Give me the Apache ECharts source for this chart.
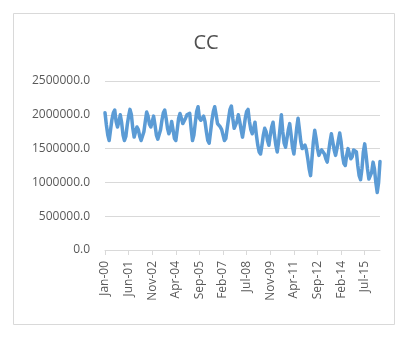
<!DOCTYPE html>
<html>
<head>
<meta charset="utf-8">
<script src="https://cdn.jsdelivr.net/npm/echarts@6/dist/echarts.min.js"></script>
<style>
  html, body { margin: 0; padding: 0; background: #fff; }
  #chart { width: 412px; height: 348px; }
</style>
</head>
<body>
<div id="chart"></div>
<script>
// CC monthly values, Jan-00 onwards (one row per year)
const ccValues = [
  2030000, 1850000, 1700000, 1620000, 1780000, 1930000, 2030000, 2070000, 1900000, 1820000, 1900000, 2000000,
  1880000, 1700000, 1620000, 1680000, 1850000, 1980000, 2080000, 2000000, 1800000, 1670000, 1750000, 1820000,
  1780000, 1680000, 1620000, 1600000, 1750000, 1900000, 2040000, 1980000, 1860000, 1820000, 1900000, 1980000,
  1850000, 1700000, 1640000, 1620000, 1780000, 1920000, 2030000, 2070000, 1950000, 1800000, 1720000, 1780000,
  1900000, 1780000, 1650000, 1620000, 1780000, 1950000, 2020000, 1950000, 1870000, 1880000, 1950000, 2000000,
  1980000, 2020000, 1800000, 1620000, 1700000, 1880000, 2050000, 2120000, 1950000, 1920000, 1950000, 1980000,
  1900000, 1750000, 1620000, 1580000, 1750000, 1920000, 2050000, 2120000, 2000000, 1870000, 1850000, 1820000,
  1780000, 1700000, 1620000, 1650000, 1800000, 1950000, 2080000, 2130000, 1950000, 1800000, 1800000, 1900000,
  2000000, 1900000, 1780000, 1670000, 1800000, 1950000, 2050000, 2080000, 1900000, 1780000, 1720000, 1800000,
  1890000, 1700000, 1550000, 1450000, 1420000, 1550000, 1700000, 1800000, 1750000, 1620000, 1550000, 1700000,
  1820000, 1890000, 1700000, 1550000, 1450000, 1600000, 1800000, 2000000, 1750000, 1580000, 1520000, 1650000,
  1780000, 1870000, 1700000, 1520000, 1420000, 1600000, 1800000, 1950000, 1780000, 1600000, 1500000, 1520000,
  1550000, 1480000, 1350000, 1200000, 1100000, 1350000, 1600000, 1770000, 1650000, 1500000, 1400000, 1450000,
  1480000, 1500000, 1420000, 1350000, 1300000, 1450000, 1600000, 1720000, 1600000, 1480000, 1400000, 1500000,
  1620000, 1730000, 1600000, 1400000, 1280000, 1250000, 1400000, 1500000, 1420000, 1350000, 1380000, 1480000,
  1500000, 1450000, 1250000, 1100000, 1040000, 1200000, 1450000, 1570000, 1400000, 1200000, 1050000, 1040000,
  1150000, 1300000, 1200000, 1000000, 850000, 1000000, 1310000
]

const monthNames = ['Jan', 'Feb', 'Mar', 'Apr', 'May', 'Jun', 'Jul', 'Aug', 'Sep', 'Oct', 'Nov', 'Dec']

// the source sheet repeats one month after Jul-08, so labels shift by one from there
const categories = ccValues.map((_, i) => {
  const m = i > 102 ? i - 1 : i
  const yy = String(Math.floor(m / 12)).padStart(2, '0')
  return monthNames[m % 12] + '-' + yy
})

const yTicks = { min: 0, max: 2500000, interval: 500000 }

const textColor = '#595959'
const lineColor = '#d9d9d9'
const fontFamily = '"Open Sans", "Liberation Sans", sans-serif'

const chart = echarts.init(document.getElementById('chart'), null, { renderer: 'canvas' })

chart.setOption({
  animation: false,
  backgroundColor: '#fff',
  graphic: [
    {
      type: 'rect',
      shape: { x: 13.5, y: 13.5, width: 381, height: 311 },
      style: { fill: 'none', stroke: lineColor, lineWidth: 1 },
      silent: true
    }
  ],
  title: {
    text: 'CC',
    left: 'center',
    top: 28,
    textStyle: {
      color: '#505050',
      fontFamily,
      fontSize: 20,
      fontWeight: 'normal'
    }
  },
  grid: {
    left: 105,
    right: 32,
    top: 81,
    height: 169
  },
  xAxis: {
    type: 'category',
    data: categories,
    boundaryGap: false,
    axisLine: { lineStyle: { color: lineColor, width: 1 } },
    axisTick: {
      interval: 16,
      length: 5,
      lineStyle: { color: lineColor }
    },
    axisLabel: {
      interval: 16,
      rotate: 90,
      margin: 11,
      color: textColor,
      fontFamily,
      fontSize: 12
    },
    splitLine: { show: false }
  },
  yAxis: {
    type: 'value',
    min: yTicks.min,
    max: yTicks.max,
    interval: yTicks.interval,
    axisLine: { show: false },
    axisTick: { show: false },
    axisLabel: {
      margin: 15,
      color: textColor,
      fontFamily,
      fontSize: 12,
      formatter: (value) => value.toFixed(1)
    },
    splitLine: { lineStyle: { color: lineColor, width: 1 } }
  },
  series: [
    {
      name: 'CC',
      type: 'line',
      data: ccValues,
      showSymbol: false,
      smooth: false,
      lineStyle: { color: '#5B9BD5', width: 3.5, cap: 'round', join: 'round' },
      itemStyle: { color: '#5B9BD5' }
    }
  ]
})
</script>
</body>
</html>
